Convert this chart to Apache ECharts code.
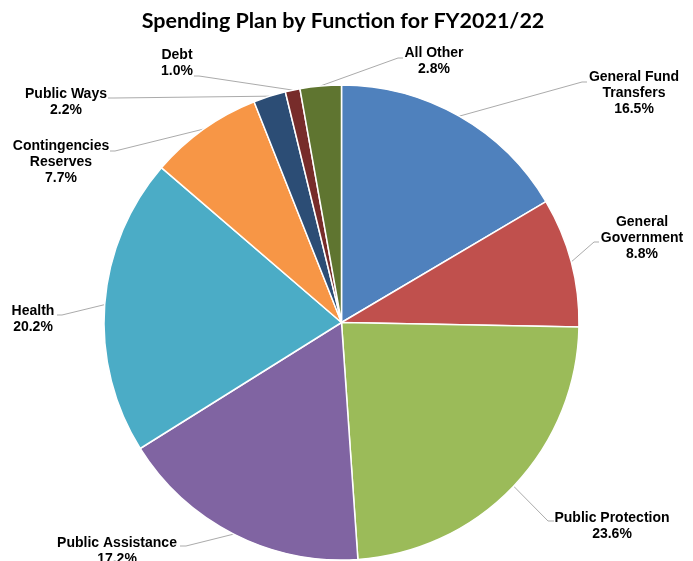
<!DOCTYPE html>
<html>
<head>
<meta charset="utf-8">
<script src="https://cdn.jsdelivr.net/npm/echarts@6/dist/echarts.min.js"></script>
<style>
  html, body { margin: 0; padding: 0; background: #ffffff; }
  #chart { width: 693px; height: 561px; }
</style>
</head>
<body>
<div id="chart"></div>
<script>
// Spending plan shares by function (percent of total)
const categories = [
  'General Fund\nTransfers',
  'General\nGovernment',
  'Public Protection',
  'Public Assistance',
  'Health',
  'Contingencies\nReserves',
  'Public Ways',
  'Debt',
  'All Other'
];
const shares = [16.5, 8.8, 23.6, 17.2, 20.2, 7.7, 2.2, 1.0, 2.8];
const sliceColors = ['#4F81BD', '#C0504D', '#9BBB59', '#8064A2', '#4BACC6',
                     '#F79646', '#2C4D75', '#772C2A', '#5F7530'];

// Label placement: [text centre x, text centre y, leader anchor x, leader anchor y, elbow dx]
const labelPlaces = [
  [634, 93.5, 587, 82, -5],
  [642, 238, 599, 242, -5],
  [612, 526.5, 554, 521, -6],
  [117, 551.5, 180, 546, 6],
  [33, 319.5, 57, 315, 5],
  [61, 162.5, 110, 151, 5],
  [66, 102, 108, 98, 6],
  [177, 63, 194, 76, 5],
  [434, 61, 403, 58, -5]
];

const chart = echarts.init(document.getElementById('chart'), null, { renderer: 'canvas' });

chart.setOption({
  animation: false,
  backgroundColor: '#ffffff',
  title: {
    text: 'Spending Plan by Function for FY2021/22',
    left: 338,
    top: 5,
    textAlign: 'center',
    textStyle: {
      fontFamily: 'Lato',
      fontWeight: 'bold',
      fontSize: 21.5,
      color: '#000000'
    }
  },
  series: [{
    type: 'pie',
    center: [341.5, 322.5],
    radius: [0, 237.5],
    startAngle: 90,
    clockwise: true,
    avoidLabelOverlap: false,
    data: categories.map((name, i) => ({
      name: name,
      value: shares[i],
      itemStyle: { color: sliceColors[i] }
    })),
    itemStyle: { borderColor: '#ffffff', borderWidth: 1.5 },
    label: {
      show: true,
      position: 'outside',
      formatter: p => p.name + '\n' + shares[p.dataIndex].toFixed(1) + '%',
      fontFamily: 'Liberation Sans',
      fontWeight: 'bold',
      fontSize: 14,
      lineHeight: 16,
      color: '#000000',
      align: 'center'
    },
    labelLine: {
      show: true,
      length: 10,
      length2: 10,
      lineStyle: { color: '#ABABAB', width: 1 }
    },
    emphasis: { disabled: true },
    labelLayout: function (params) {
      const pl = labelPlaces[params.dataIndex];
      const edge = params.labelLinePoints ? params.labelLinePoints[0] : [pl[2], pl[3]];
      return {
        x: pl[0],
        y: pl[1],
        align: 'center',
        verticalAlign: 'middle',
        labelLinePoints: [
          [edge[0], edge[1]],
          [pl[2] + pl[4], pl[3]],
          [pl[2], pl[3]]
        ]
      };
    }
  }]
});
</script>
</body>
</html>
